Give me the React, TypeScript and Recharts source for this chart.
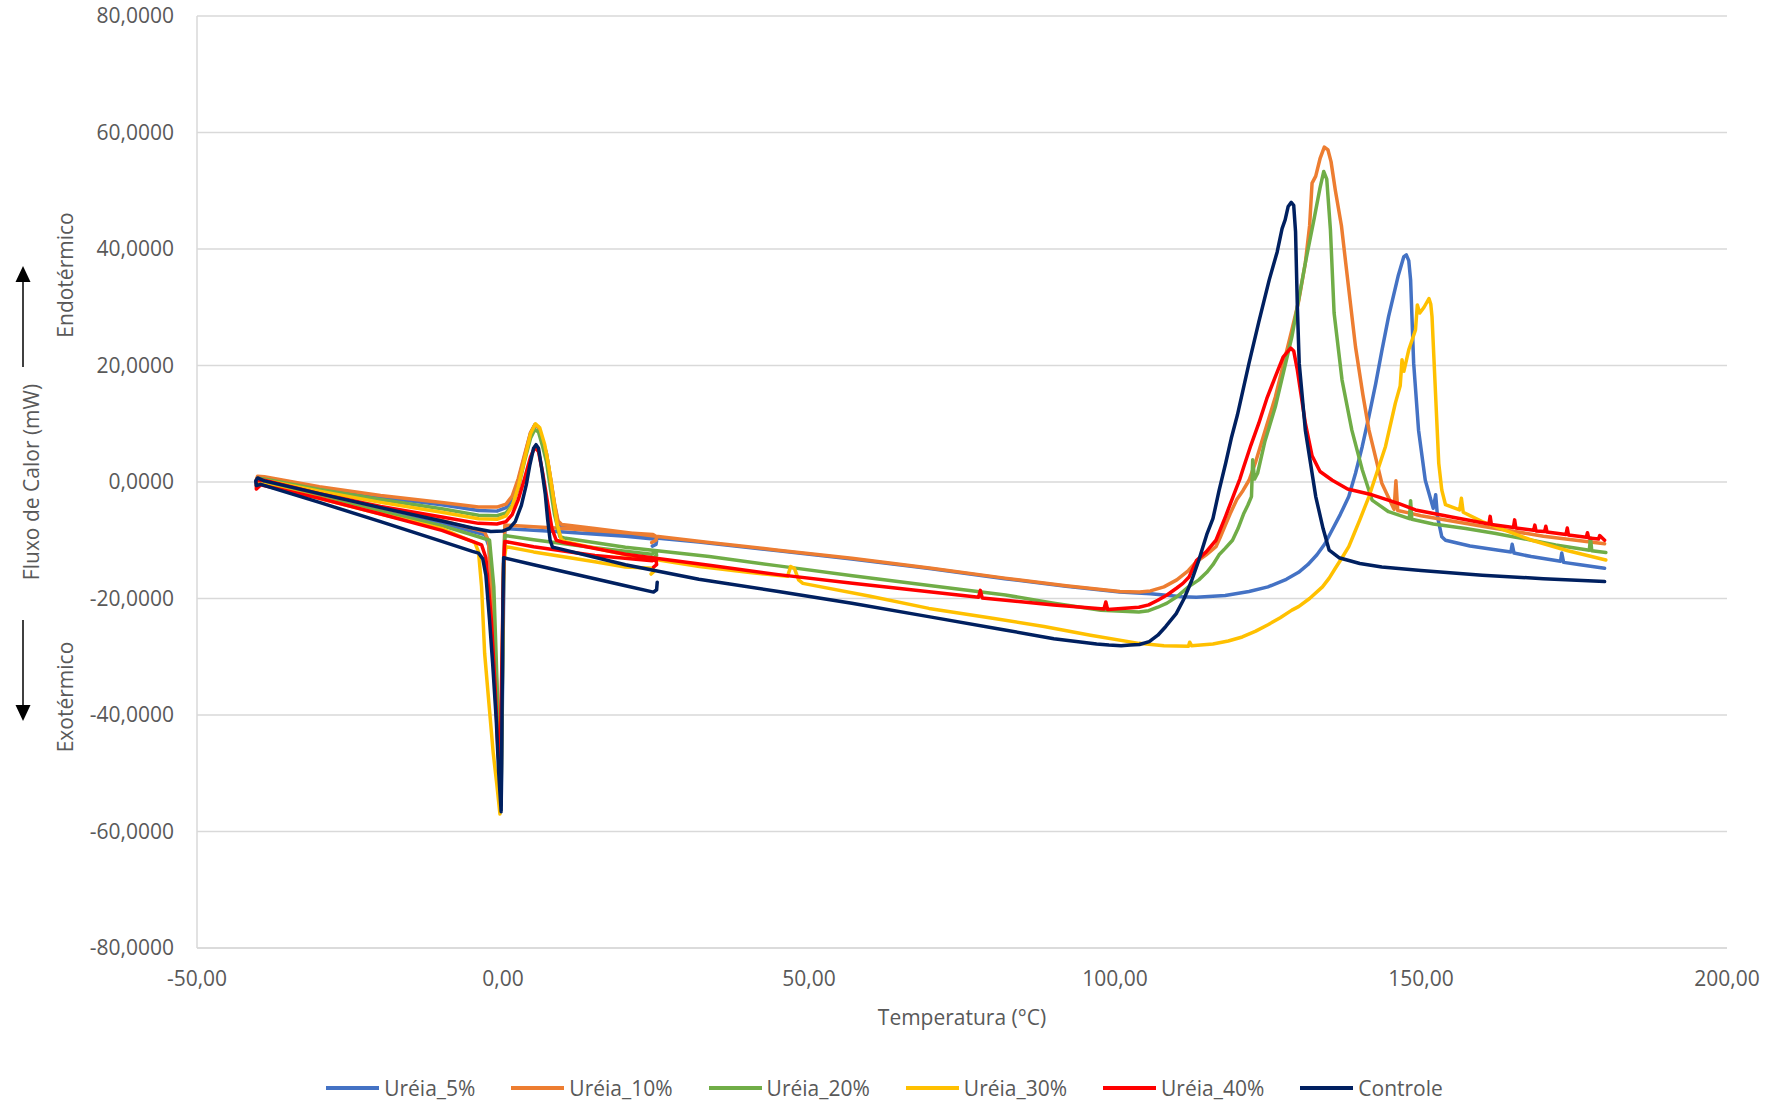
import { LineChart, Line, XAxis, YAxis, CartesianGrid, Label } from 'recharts';

// DSC traces: each series is one continuous path (cooling 25 → -40, then heating -40 → 180),
// so points are kept in measurement order, [temperatura °C, fluxo mW].
const ureia5: [number, number][] = [
  [24.4, -11.0], [25.0, -10.7], [25.1, -10.1], [24.6, -9.8], [20, -9.3], [10, -8.6], [5, -8.3], [0.3, -8.0],
  [0.1, -20], [-0.3, -55.5], [-0.9, -40], [-1.6, -22], [-2.3, -11], [-3, -9.0], [-5, -8.5], [-10, -7.0],
  [-20, -4.7], [-30, -2.3], [-39.6, 0], [-40.3, -0.2], [-40.2, 0.6],
  [-39, 0.5], [-30, -1.0], [-20, -2.6], [-10, -3.9], [-4, -4.9], [-1, -5.0], [0.5, -4.4], [1.5, -3.0],
  [2.5, 0.2], [3.5, 4.3], [4.5, 8.4], [5.2, 9.8], [5.8, 9.4], [6.5, 7.0], [7.1, 4.9], [7.8, 0.3], [8.4, -3.8],
  [9.0, -7.0], [9.6, -7.6], [15, -8.4], [25, -9.6], [32, -10.3], [45, -11.8], [57, -13.2], [70, -14.9],
  [82, -16.6], [92, -17.9], [100.8, -18.9], [105.8, -19.2], [111, -19.7], [113.3, -19.8], [118, -19.5],
  [121.9, -18.8], [125, -18.0], [128, -16.7], [130, -15.5], [131.5, -14.2], [133, -12.5], [134.3, -10.6],
  [135.5, -8.2], [136.8, -5.6], [138.2, -2.5], [139.3, 1.5], [140.4, 6.1], [141.5, 11.3], [142.6, 16.9],
  [143.6, 22.5], [144.7, 28.4], [146.3, 35.5], [147.2, 38.7], [147.6, 39.0], [148, 38], [148.3, 34.7],
  [148.8, 20.4], [149.6, 8.9], [150.7, 0.3], [152, -4.5], [152.4, -2.2], [152.7, -6.0], [153.4, -9.4],
  [154, -10], [158, -11], [162.7, -11.7], [164.7, -12.0], [164.9, -10.7], [165.2, -12.2], [168, -12.8],
  [172.8, -13.6], [173, -12.2], [173.3, -13.8], [176, -14.2], [180, -14.8],
];

const ureia10: [number, number][] = [
  [24.3, -10.4], [25.0, -10.0], [25.1, -9.4], [24.5, -9.0], [20, -8.7], [10, -8.0], [5, -7.7], [0.3, -7.4],
  [0.1, -15], [-0.3, -52], [-0.9, -38], [-1.7, -20], [-2.4, -10], [-3, -8.6], [-5, -8.0], [-10, -6.6],
  [-20, -4.4], [-30, -2.1], [-39.6, 0.3], [-40.3, 0.4], [-40.1, 1.0],
  [-39, 0.9], [-30, -0.8], [-20, -2.3], [-10, -3.5], [-4, -4.3], [-1, -4.3], [0.5, -3.8], [1.5, -2.4],
  [2.5, 0.6], [3.5, 4.6], [4.5, 8.5], [5.2, 9.8], [5.8, 9.4], [6.5, 7.0], [7.1, 4.9], [7.8, 0.5], [8.4, -3.6],
  [9, -6.7], [9.6, -7.3], [15, -8.0], [25, -9.3], [33.7, -10.4], [45, -11.7], [57, -13.1], [70, -14.8],
  [82, -16.5], [92, -17.8], [100.8, -18.8], [104, -18.9], [105.8, -18.7], [108, -18], [110.1, -16.8],
  [112, -15.2], [113.3, -13.7], [114.9, -12.5], [116.5, -11.1], [117.2, -9.5], [118, -7.5], [118.8, -5.5],
  [119.9, -3], [120.9, -1.5], [121.9, 0.3], [123, 3.5], [124, 7], [126.2, 14.6], [128.9, 26.1], [130, 31],
  [131.1, 37.6], [131.8, 44], [132.2, 51.3], [132.8, 52.5], [133.5, 55.5], [134.2, 57.5], [134.8, 57],
  [135.3, 55], [136, 50.1], [137, 44], [137.7, 37.6], [139.3, 23.2], [140.5, 15], [141.5, 8.9],
  [143.6, -0.2], [145.6, -4.7], [145.9, 0.2], [146.2, -4.9], [148, -5.3], [150, -5.8], [160, -7.6],
  [170, -9.3], [180, -10.6],
];

const ureia20: [number, number][] = [
  [24.6, -13.0], [25.1, -12.6], [25.0, -11.9], [24.3, -12.4], [15, -11.3], [5, -9.9], [0.3, -9.2],
  [0.1, -16], [-0.3, -53], [-0.8, -40], [-1.5, -18], [-2.2, -10], [-4, -9.4], [-10, -7.5], [-20, -5.0],
  [-30, -2.6], [-39.6, -0.2], [-40.3, -0.3], [-40.1, 0.6],
  [-39, 0.5], [-30, -1.3], [-20, -3.0], [-10, -4.6], [-4, -5.7], [-1, -5.8], [0.5, -5.3], [1.5, -4.0],
  [2.5, -1.0], [3.5, 3.5], [4.5, 7.5], [5.2, 9.0], [5.8, 8.6], [6.5, 6.0], [7.1, 3.5], [7.8, -1.5],
  [8.4, -5.5], [9.3, -9.4], [10, -9.6], [20, -11.2], [33.7, -12.8], [45, -14.4], [57.1, -16.1], [70, -17.8],
  [82.1, -19.4], [90, -20.8], [97.7, -22], [103.9, -22.3], [105.5, -22.1], [107, -21.5], [108.5, -20.8],
  [110.1, -19.7], [111, -18.9], [112, -18], [113.7, -16.8], [115, -15.5], [116, -14.2], [117, -12.5],
  [118, -11.4], [119.2, -10], [120.1, -8], [121, -5.5], [121.7, -4], [122.3, -2.5], [122.5, 3.8],
  [122.8, 0.5], [123.3, 1.5], [124.5, 7], [126.2, 12.9], [128.9, 24.9], [131.1, 37.6], [132.5, 45],
  [133.5, 50.5], [134.1, 53.3], [134.6, 52], [135.2, 43.3], [135.8, 29], [137.1, 17.5], [138.7, 8.9],
  [140.4, 2.1], [142, -3.1], [144.7, -5.1], [148.1, -6.3], [148.3, -3.2], [148.5, -6.4], [152, -7.2],
  [157.3, -8], [162, -8.8], [168.1, -10], [172, -10.8], [177.5, -11.7], [177.7, -9.6], [177.9, -11.8],
  [180.2, -12.1],
];

const ureia30: [number, number][] = [
  [24.2, -15.8], [24.7, -15.3], [24.5, -14.8], [20, -14.6], [15, -13.7], [5, -12.0], [0.5, -11.1],
  [0.1, -14], [-0.5, -57], [-1.0, -52], [-1.6, -46.5], [-2.3, -38], [-3.0, -29.4], [-3.5, -18], [-4.0, -12],
  [-4.6, -10.4], [-10, -8.0], [-20, -5.5], [-30, -2.8], [-39.6, -0.3], [-40.3, -0.6], [-40.1, 0.5],
  [-39, 0.3], [-30, -1.6], [-20, -3.5], [-10, -5.2], [-4, -6.3], [-1, -6.4], [0.5, -5.8], [1.5, -4.2],
  [2.5, -0.8], [3.5, 3.8], [4.5, 8.3], [5.3, 10.0], [6, 9.3], [6.8, 6.5], [7.5, 2.5], [8.2, -2.5], [8.8, -7],
  [9.5, -9.8], [10, -10.2], [20, -12.5], [32.1, -14.5], [40, -15.5], [46.5, -16.2], [47.0, -14.5],
  [47.6, -14.8], [48.3, -16.8], [49, -17.4], [60, -19.6], [69.6, -21.7], [80, -23.4], [88.4, -24.8],
  [96, -26.3], [103.9, -27.7], [108, -28.1], [112, -28.2], [112.2, -27.5], [112.5, -28.1], [116, -27.8],
  [118.5, -27.3], [120.8, -26.6], [123, -25.6], [125, -24.5], [127, -23.3], [128.9, -22], [130, -21.4],
  [131.8, -20], [133.9, -18], [135, -16.5], [136, -14.8], [137.1, -13], [138.2, -11.1], [139.1, -8.8],
  [140, -6.5], [141.5, -2.5], [144.2, 6.1], [145.8, 13.5], [146.6, 16.5], [146.9, 21], [147.2, 19],
  [148, 22.7], [149.1, 26.1], [149.4, 30.4], [149.8, 29.0], [150.5, 30], [151.3, 31.5], [151.6, 30.5],
  [151.8, 28.4], [152.4, 14.6], [152.9, 3.2], [153.4, -1.4], [154, -3.9], [156.3, -4.8], [156.6, -2.8],
  [156.9, -5.2], [160, -6.8], [164, -8.4], [168.1, -10], [174, -11.8], [180.2, -13.4],
];

const ureia40: [number, number][] = [
  [24.6, -14.6], [25.1, -14.2], [25.0, -13.2], [24.4, -13.5], [15, -12.6], [5, -11.1], [0.3, -10.2],
  [0.1, -14], [-0.5, -50], [-0.8, -46.5], [-1.3, -35], [-1.9, -23.7], [-2.8, -13], [-3.5, -10.8],
  [-5, -10.2], [-10, -8.3], [-20, -5.5], [-30, -2.8], [-39.6, -0.5], [-40.3, -1.2], [-40.3, 0.2],
  [-39, 0.3], [-30, -2.0], [-20, -4.2], [-10, -6.0], [-4, -7.1], [-1, -7.2], [0.5, -6.8], [1.5, -5.6],
  [2.5, -3], [3.5, 0.5], [4.5, 4.3], [5.2, 6.0], [5.8, 5.2], [6.5, 1.5], [7.2, -3], [8, -8], [8.7, -10],
  [10, -10.4], [20, -12.4], [33.7, -14.3], [45, -15.9], [57.1, -17.4], [70, -18.9], [77.7, -19.8],
  [78, -18.6], [78.3, -19.9], [82.1, -20.3], [90, -21.1], [98.2, -21.8], [98.5, -20.6], [98.8, -21.9],
  [103.9, -21.5], [105.5, -21.1], [107, -20.3], [108.5, -19.4], [110.1, -18.2], [111.1, -17.4],
  [112.1, -16.3], [113.3, -13.5], [114.9, -12], [116.5, -10], [118.1, -5.8], [119.7, -1.4], [120.4, 0.5],
  [121, 2.5], [122.2, 6.3], [123.5, 10.1], [124.8, 14.3], [126.2, 18.1], [127.5, 21.5], [128.7, 23],
  [129.2, 22.5], [129.8, 19.2], [131.1, 10.1], [132.2, 4.5], [133.5, 1.8], [135.5, 0.3], [138, -1.2],
  [142, -2.2], [146.4, -3.7], [149.1, -4.8], [155, -6.0], [161.1, -7.2], [161.3, -5.9], [161.5, -7.3],
  [165.1, -7.8], [165.3, -6.5], [165.5, -7.9], [168.4, -8.3], [168.6, -7.4], [168.8, -8.4], [170.2, -8.5],
  [170.4, -7.6], [170.6, -8.6], [173.7, -9.0], [173.9, -7.9], [174.1, -9.1], [177, -9.5], [177.2, -8.7],
  [177.4, -9.6], [179, -9.8], [179.2, -9.2], [180, -10.0],
];

const controle: [number, number][] = [
  [25.2, -17.2], [25.1, -18.5], [24.6, -18.9], [20, -17.8], [15, -16.6], [10, -15.4], [5, -14.2],
  [0.1, -13.0], [0, -20], [-0.3, -56.6], [-0.7, -50], [-1.1, -40.9], [-1.7, -31], [-2.2, -23.7],
  [-2.8, -16], [-3.3, -13.2], [-4, -12.2], [-5, -11.9], [-10, -10.2], [-20, -6.8], [-30, -3.5],
  [-39.6, -0.4], [-40.3, -0.6], [-40.4, 0.2], [-40.1, 0.7],
  [-39, 0.2], [-30, -2.0], [-20, -4.4], [-10, -6.7], [-5, -7.9], [-2, -8.5], [0, -8.4], [1, -8.0],
  [2, -6.8], [3, -4.0], [3.8, -0.5], [4.4, 3.0], [5.0, 5.8], [5.4, 6.4], [5.8, 5.8], [6.3, 2.5], [6.9, -2.0],
  [7.3, -6.5], [7.7, -10.0], [8.1, -11.2], [9, -11.4], [20, -14.2], [32, -16.7], [45, -18.8], [57, -20.8],
  [70, -23.2], [82, -25.4], [90, -26.9], [97, -27.8], [99, -28], [101, -28.1], [102.5, -28], [104, -27.9],
  [105.6, -27.4], [107, -26.3], [108.3, -24.8], [110, -22.6], [111.3, -20], [112.5, -17], [113.7, -13.4],
  [115, -9], [116, -6.3], [117, -1.5], [118.1, 3.3], [119, 7.5], [120, 11.5], [121.9, 20.4], [123.5, 27.5],
  [125.2, 34.7], [126.5, 39.5], [127.3, 43.5], [127.8, 45], [128.3, 47.3], [128.8, 48], [129.2, 47.5],
  [129.5, 43], [129.8, 30], [130.1, 20.4], [131.1, 8.9], [132.8, -2.5], [134, -8], [135, -11.7],
  [136.6, -13.0], [140, -14], [143.6, -14.6], [150, -15.2], [160, -16], [170, -16.6], [180, -17.1],
];

const xTicks = [-50, 0, 50, 100, 150, 200];
const yTicks = [-80, -60, -40, -20, 0, 20, 40, 60, 80];

const series = [
  { name: 'Uréia_5%', colour: '#4472C4', points: ureia5 },
  { name: 'Uréia_10%', colour: '#ED7D31', points: ureia10 },
  { name: 'Uréia_20%', colour: '#70AD47', points: ureia20 },
  { name: 'Uréia_30%', colour: '#FFC000', points: ureia30 },
  { name: 'Uréia_40%', colour: '#FF0000', points: ureia40 },
  { name: 'Controle', colour: '#002060', points: controle },
];

const FONT = '"Open Sans", "Segoe UI", sans-serif';
const TEXT = '#595959';

const fmtY = (v: number) => v.toFixed(4).replace('.', ',');
const fmtX = (v: number) => v.toFixed(2).replace('.', ',');

export default function App() {
  return (
    <div
      style={{
        position: 'absolute',
        left: 0,
        top: 0,
        width: 1769,
        height: 1107,
        background: '#fff',
        fontFamily: FONT,
      }}
    >
      <LineChart width={1769} height={1107} margin={{ top: 16, right: 42, bottom: 79, left: 0 }}>
        <CartesianGrid horizontal vertical={false} stroke="#D9D9D9" strokeWidth={1.5} />
        <XAxis
          dataKey="t"
          type="number"
          domain={[-50, 200]}
          ticks={xTicks}
          allowDataOverflow
          height={80}
          tickLine={false}
          tickSize={0}
          tickMargin={23}
          axisLine={{ stroke: '#D9D9D9', strokeWidth: 1.5 }}
          tick={{ fontSize: 21, fill: TEXT, fontFamily: FONT }}
          tickFormatter={fmtX}
        >
          <Label
            value="Temperatura (°C)"
            position="insideBottom"
            offset={3}
            style={{ fontSize: 21, fill: TEXT, fontFamily: FONT }}
          />
        </XAxis>
        <YAxis
          dataKey="v"
          type="number"
          domain={[-80, 80]}
          ticks={yTicks}
          allowDataOverflow
          width={197}
          tickLine={false}
          tickSize={0}
          tickMargin={23}
          axisLine={{ stroke: '#D9D9D9', strokeWidth: 1.5 }}
          tick={{ fontSize: 21, fill: TEXT, fontFamily: FONT }}
          tickFormatter={fmtY}
        >
          <Label
            value="Fluxo de Calor (mW)"
            angle={-90}
            position="insideLeft"
            offset={32}
            style={{ fontSize: 21, fill: TEXT, fontFamily: FONT, textAnchor: 'middle' }}
          />
        </YAxis>
        {series.map((s) => (
          <Line
            key={s.name}
            data={s.points.map(([t, v]) => ({ t, v }))}
            dataKey="v"
            name={s.name}
            type="linear"
            stroke={s.colour}
            strokeWidth={3.5}
            strokeLinejoin="round"
            strokeLinecap="round"
            dot={false}
            activeDot={false}
            isAnimationActive={false}
          />
        ))}
      </LineChart>

      {/* Endo/exo direction hints beside the y-axis title */}
      <svg
        width={120}
        height={1107}
        style={{ position: 'absolute', left: 0, top: 0, pointerEvents: 'none' }}
      >
        <line x1={23} y1={367} x2={23} y2={280} stroke="#000" strokeWidth={1.5} />
        <polygon points="23,266 15.5,282 30.5,282" fill="#000" />
        <line x1={23} y1={620} x2={23} y2={706} stroke="#000" strokeWidth={1.5} />
        <polygon points="23,721 15.5,705 30.5,705" fill="#000" />
        <text
          x={65}
          y={275}
          transform="rotate(-90 65 275)"
          textAnchor="middle"
          dominantBaseline="central"
          fontSize={21}
          fill={TEXT}
          fontFamily={FONT}
        >
          Endotérmico
        </text>
        <text
          x={65}
          y={697}
          transform="rotate(-90 65 697)"
          textAnchor="middle"
          dominantBaseline="central"
          fontSize={21}
          fill={TEXT}
          fontFamily={FONT}
        >
          Exotérmico
        </text>
      </svg>

      {/* Legend row, centred under the whole chart */}
      <div
        style={{
          position: 'absolute',
          left: 0,
          top: 1073,
          width: 1769,
          display: 'flex',
          justifyContent: 'center',
          gap: 36,
          fontSize: 21,
          color: TEXT,
          lineHeight: '30px',
        }}
      >
        {series.map((s) => (
          <span key={s.name} style={{ display: 'inline-flex', alignItems: 'center', gap: 5 }}>
            <span style={{ display: 'inline-block', width: 53, height: 4, background: s.colour }} />
            {s.name}
          </span>
        ))}
      </div>
    </div>
  );
}
